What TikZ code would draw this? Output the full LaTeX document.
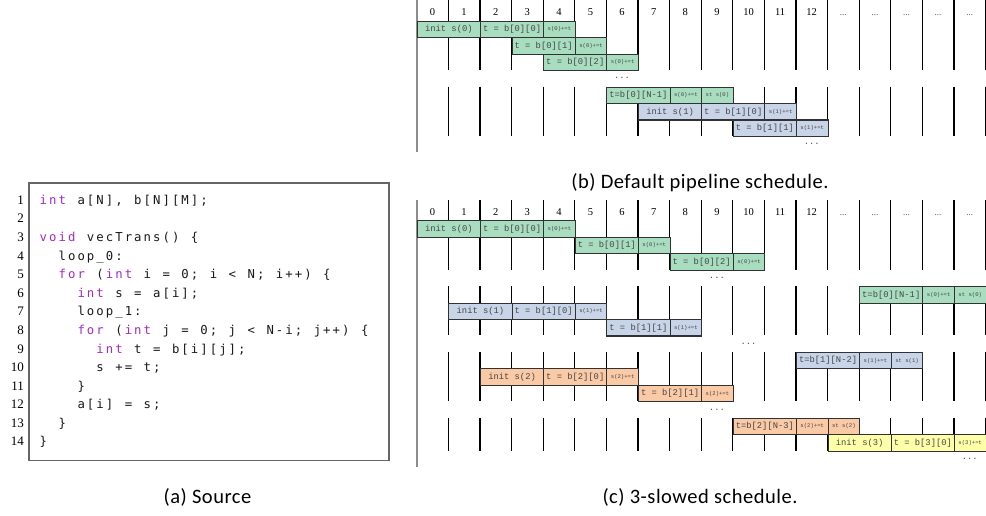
\documentclass[tikz,border=0pt]{standalone}
\usepackage{fontspec}
\setmainfont{Liberation Serif}
\newfontfamily\codefont{DejaVu Sans Mono}
\newfontfamily\cellfont{Liberation Mono}
\newfontfamily\capfont[LetterSpace=2.5]{Carlito}
\definecolor{kwc}{RGB}{165,40,200}
\definecolor{cg}{RGB}{168,221,192}
\definecolor{cb}{RGB}{200,212,232}
\definecolor{co}{RGB}{250,201,166}
\definecolor{cy}{RGB}{255,255,170}
\definecolor{celltext}{RGB}{70,70,70}
\definecolor{cellborder}{RGB}{50,50,50}
\newlength\codecw \setlength\codecw{9.45pt}
\newcommand\codeloop[1]{\ifx#1\relax\else\makebox[\codecw][c]{#1}\expandafter\codeloop\fi}
\newcommand\codekw[1]{\textcolor{kwc}{\codeloop#1\relax}}
\newcommand\codetx[1]{\codeloop#1\relax}
\tikzset{
  cell/.style={draw=cellborder, line width=1.1pt, inner sep=0pt, minimum height=16.45pt,
    anchor=north west, text=celltext, font=\cellfont\fontsize{8.8}{9}\selectfont},
  tinytext/.style={font=\cellfont\fontsize{5.6}{6}\selectfont},
  gridline/.style={line width=1.2pt, black},
  leftline/.style={line width=1.8pt, black!45},
  hdr/.style={anchor=base, font=\fontsize{10.5}{11}\selectfont, inner sep=0pt},
  hdrdots/.style={anchor=base, font=\fontsize{9}{9}\selectfont, inner sep=0pt, text=black!70},
  gapdots/.style={font=\cellfont\fontsize{8.8}{9}\selectfont, text=celltext, inner sep=0pt},
  capstyle/.style={font=\capfont\fontsize{20.5}{22}\selectfont, anchor=base, inner sep=0pt},
  lnum/.style={anchor=base east, inner sep=0pt, font=\fontsize{13}{13}\selectfont},
  codeline/.style={anchor=base west, inner sep=0pt, text=black!90, font=\codefont\fontsize{12.3}{12}\selectfont},
}
% name, row, col, ncols, style, text
\newcommand\bcell[6]{\node[cell,#5,minimum width=#4*31.6pt] (#1) at ({416.7+#3*31.6},{20.7+#2*16.45}) {#6};}
\newcommand\ccell[6]{\node[cell,#5,minimum width=#4*31.6pt] (#1) at ({416.7+#3*31.6},{220.3+#2*16.45}) {#6};}
\begin{document}
\begin{tikzpicture}[x=1pt,y=-1pt]
\useasboundingbox (0,0) rectangle (986,515);

% ---------------- (a) source ----------------
\node[draw=black!60, line width=1.2pt, minimum width=360pt, minimum height=277.7pt,
  anchor=north west, inner sep=0pt] (codebox) at (28.3,182.3) {};
\foreach \i in {1,...,14} \node[lnum] (ln\i) at (24,{204.3+(\i-1)*18.59}) {\i};
\node[codeline] (cl1) at (38.5,204.3) {\codekw{int}\codetx{~a[N],~b[N][M];}};
\node[codeline] (cl3) at (38.5,{204.3+2*18.59}) {\codekw{void}\codetx{~vecTrans()~\{}};
\node[codeline] (cl4) at (57.4,{204.3+3*18.59}) {\codetx{loop\_0:}};
\node[codeline] (cl5) at (57.4,{204.3+4*18.59}) {\codekw{for}\codetx{~(}\codekw{int}\codetx{~i~=~0;~i~<~N;~i++)~\{}};
\node[codeline] (cl6) at (76.3,{204.3+5*18.59}) {\codekw{int}\codetx{~s~=~a[i];}};
\node[codeline] (cl7) at (76.3,{204.3+6*18.59}) {\codetx{loop\_1:}};
\node[codeline] (cl8) at (76.3,{204.3+7*18.59}) {\codekw{for}\codetx{~(}\codekw{int}\codetx{~j~=~0;~j~<~N-i;~j++)~\{}};
\node[codeline] (cl9) at (95.2,{204.3+8*18.59}) {\codekw{int}\codetx{~t~=~b[i][j];}};
\node[codeline] (cl10) at (95.2,{204.3+9*18.59}) {\codetx{s~+=~t;}};
\node[codeline] (cl11) at (76.3,{204.3+10*18.59}) {\codetx{\}}};
\node[codeline] (cl12) at (76.3,{204.3+11*18.59}) {\codetx{a[i]~=~s;}};
\node[codeline] (cl13) at (57.4,{204.3+12*18.59}) {\codetx{\}}};
\node[codeline] (cl14) at (38.5,{204.3+13*18.59}) {\codetx{\}}};
\node[capstyle] (capa) at (207.5,503.5) {(a) Source};

% ---------------- (b) default pipeline ----------------
\draw[leftline] (416.7,0) -- (416.7,152.3);
\foreach \k in {1,...,18} {
  \draw[gridline] ({416.7+\k*31.6},0) -- ({416.7+\k*31.6},70.05);
  \draw[gridline] ({416.7+\k*31.6},86.5) -- ({416.7+\k*31.6},135.85);
}
\foreach \k in {0,...,12} \node[hdr] (bh\k) at ({416.7+(\k+0.5)*31.6},15) {\k};
\foreach \k in {13,...,17} \node[hdrdots] (bh\k) at ({416.7+(\k+0.5)*31.6},15) {...};
\bcell{b1}{0}{0}{2}{fill=cg}{init s(0)}
\bcell{b2}{0}{2}{2}{fill=cg}{t = b[0][0]}
\bcell{b3}{0}{4}{1}{fill=cg,tinytext}{s(0)+=t}
\bcell{b4}{1}{3}{2}{fill=cg}{t = b[0][1]}
\bcell{b5}{1}{5}{1}{fill=cg,tinytext}{s(0)+=t}
\bcell{b6}{2}{4}{2}{fill=cg}{t = b[0][2]}
\bcell{b7}{2}{6}{1}{fill=cg,tinytext}{s(0)+=t}
\bcell{b8}{4}{6}{2}{fill=cg}{t=b[0][N-1]}
\bcell{b9}{4}{8}{1}{fill=cg,tinytext}{s(0)+=t}
\bcell{b10}{4}{9}{1}{fill=cg,tinytext}{st s(0)}
\bcell{b11}{5}{7}{2}{fill=cb}{init s(1)}
\bcell{b12}{5}{9}{2}{fill=cb}{t = b[1][0]}
\bcell{b13}{5}{11}{1}{fill=cb,tinytext}{s(1)+=t}
\bcell{b14}{6}{10}{2}{fill=cb}{t = b[1][1]}
\bcell{b15}{6}{12}{1}{fill=cb,tinytext}{s(1)+=t}
\node[gapdots] (bd1) at (622.1,78.3) {...};
\node[gapdots] (bd2) at (811.7,144.1) {...};
\node[capstyle] (capb) at (700,188) {(b) Default pipeline schedule.};

% ---------------- (c) 3-slowed ----------------
\draw[leftline] (416.7,200) -- (416.7,467);
\foreach \k in {1,...,18} {
  \draw[gridline] ({416.7+\k*31.6},200) -- ({416.7+\k*31.6},269.65);
  \draw[gridline] ({416.7+\k*31.6},286.1) -- ({416.7+\k*31.6},335.45);
  \draw[gridline] ({416.7+\k*31.6},351.9) -- ({416.7+\k*31.6},401.25);
  \draw[gridline] ({416.7+\k*31.6},417.7) -- ({416.7+\k*31.6},450.6);
}
\foreach \k in {0,...,12} \node[hdr] (ch\k) at ({416.7+(\k+0.5)*31.6},215) {\k};
\foreach \k in {13,...,17} \node[hdrdots] (ch\k) at ({416.7+(\k+0.5)*31.6},215) {...};
\ccell{c1}{0}{0}{2}{fill=cg}{init s(0)}
\ccell{c2}{0}{2}{2}{fill=cg}{t = b[0][0]}
\ccell{c3}{0}{4}{1}{fill=cg,tinytext}{s(0)+=t}
\ccell{c4}{1}{5}{2}{fill=cg}{t = b[0][1]}
\ccell{c5}{1}{7}{1}{fill=cg,tinytext}{s(0)+=t}
\ccell{c6}{2}{8}{2}{fill=cg}{t = b[0][2]}
\ccell{c7}{2}{10}{1}{fill=cg,tinytext}{s(0)+=t}
\ccell{c8}{4}{14}{2}{fill=cg}{t=b[0][N-1]}
\ccell{c9}{4}{16}{1}{fill=cg,tinytext}{s(0)+=t}
\ccell{c10}{4}{17}{1}{fill=cg,tinytext}{st s(0)}
\ccell{c11}{5}{1}{2}{fill=cb}{init s(1)}
\ccell{c12}{5}{3}{2}{fill=cb}{t = b[1][0]}
\ccell{c13}{5}{5}{1}{fill=cb,tinytext}{s(1)+=t}
\ccell{c14}{6}{6}{2}{fill=cb}{t = b[1][1]}
\ccell{c15}{6}{8}{1}{fill=cb,tinytext}{s(1)+=t}
\ccell{c16}{8}{12}{2}{fill=cb}{t=b[1][N-2]}
\ccell{c17}{8}{14}{1}{fill=cb,tinytext}{s(1)+=t}
\ccell{c18}{8}{15}{1}{fill=cb,tinytext}{st s(1)}
\ccell{c19}{9}{2}{2}{fill=co}{init s(2)}
\ccell{c20}{9}{4}{2}{fill=co}{t = b[2][0]}
\ccell{c21}{9}{6}{1}{fill=co,tinytext}{s(2)+=t}
\ccell{c22}{10}{7}{2}{fill=co}{t = b[2][1]}
\ccell{c23}{10}{9}{1}{fill=co,tinytext}{s(2)+=t}
\ccell{c24}{12}{10}{2}{fill=co}{t=b[2][N-3]}
\ccell{c25}{12}{12}{1}{fill=co,tinytext}{s(2)+=t}
\ccell{c26}{12}{13}{1}{fill=co,tinytext}{st s(2)}
\ccell{c27}{13}{13}{2}{fill=cy}{init s(3)}
\ccell{c28}{13}{15}{2}{fill=cy}{t = b[3][0]}
\ccell{c29}{13}{17}{1}{fill=cy,tinytext}{s(3)+=t}
\node[gapdots] (cd1) at (716.9,277.9) {...};
\node[gapdots] (cd2) at (748.5,343.7) {...};
\node[gapdots] (cd3) at (716.9,409.5) {...};
\node[gapdots] (cd4) at (969.7,458.8) {...};
\node[capstyle] (capc) at (700,503.5) {(c) 3-slowed schedule.};
\end{tikzpicture}
\end{document}
